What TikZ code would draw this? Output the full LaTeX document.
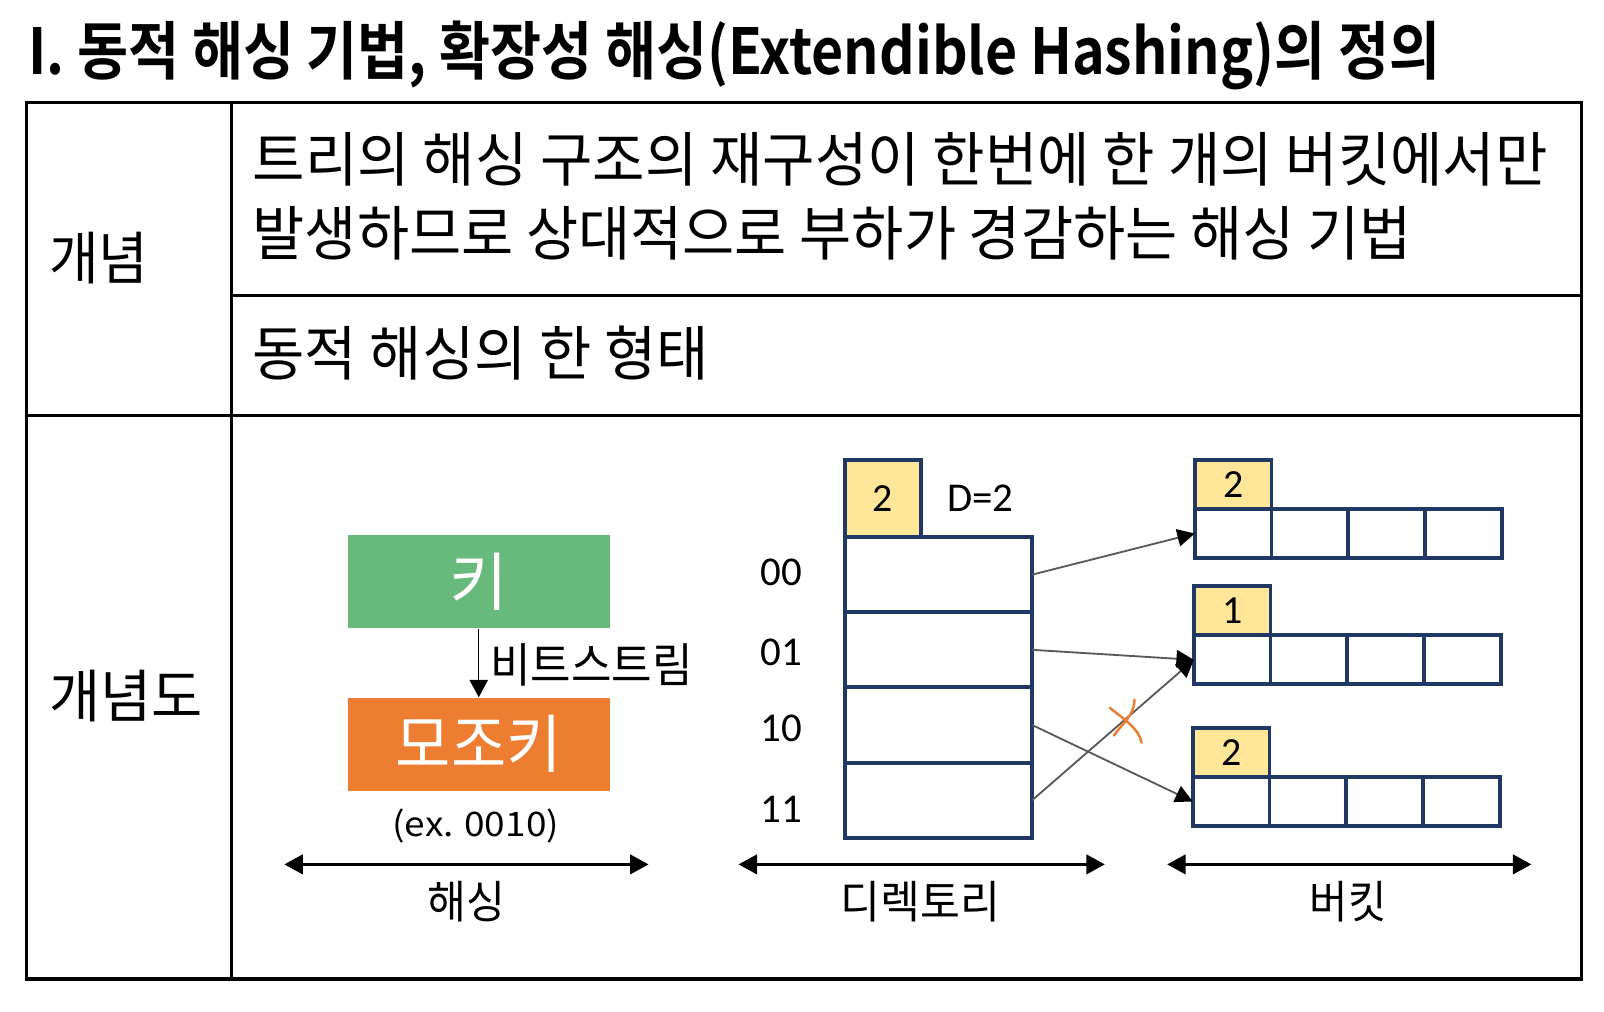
\documentclass[tikz,border=0pt]{standalone}
\usepackage{fontspec}
\usepackage{graphicx}
\usetikzlibrary{arrows.meta}
\newfontfamily\kr{Noto Sans CJK KR}
\newfontfamily\krb{Noto Sans CJK KR Bold}
\newfontfamily\calfont{Carlito}
\definecolor{dnavy}{RGB}{31,56,100}
\definecolor{hyellow}{RGB}{255,230,153}
\definecolor{kgreen}{RGB}{104,186,124}
\definecolor{korange}{RGB}{237,125,49}
\definecolor{cgray}{RGB}{89,89,89}
\newcommand\fitw[2]{\resizebox{#1}{\height}{#2}}
\tikzset{
  tline/.style={line width=1.5pt, black},
  cell/.style={draw=dnavy, line width=1.9pt, fill=white, minimum width=37.5pt, minimum height=24pt, inner sep=0pt, outer sep=0pt},
  hdr/.style={cell, fill=hyellow, font=\calfont\fontsize{19.5pt}{22pt}\selectfont},
  drow/.style={draw=dnavy, line width=1.9pt, fill=white, minimum width=91.5pt, minimum height=36.75pt, inner sep=0pt, outer sep=0pt},
  conn/.style={draw=cgray, line width=0.9pt, -{Triangle[length=8.5pt,width=8.5pt,color=black]}},
  darr/.style={line width=1.3pt, {Triangle[length=9pt,width=9.5pt]}-{Triangle[length=9pt,width=9.5pt]}},
  harr/.style={line width=0.6pt, -{Triangle[length=8.5pt,width=9pt]}},
  colorbox/.style={minimum width=128pt, minimum height=45.5pt, inner sep=0pt, text=white},
  txt/.style={inner sep=0pt, outer sep=0pt},
  lbl/.style={txt, font=\kr\fontsize{22pt}{26pt}\selectfont},
  num/.style={txt, font=\calfont\fontsize{20pt}{24pt}\selectfont},
  xmark/.style={draw=korange, line width=1.2pt, line cap=round}
}
\begin{document}
\begin{tikzpicture}[x=0.5pt,y=-0.5pt]
\useasboundingbox (0,0) rectangle (1568,989);
% title
\node[txt, anchor=west] (title) at (28,54) {\krb\fontsize{31pt}{36pt}\selectfont\fitw{690pt}{I. 동적 해싱 기법, 확장성 해싱(Extendible Hashing)의 정의}};
% table
\draw[tline] (26,100) rectangle (1546,957);
\draw[tline] (226,100) -- (226,957);
\draw[tline] (226,289) -- (1546,289);
\draw[tline] (26,406) -- (1546,406);
\node[txt, anchor=west] (c1) at (48,252) {\kr\fontsize{28pt}{34pt}\selectfont\fitw{48.5pt}{개념}};
\node[txt, anchor=west] (c2) at (48,680) {\kr\fontsize{28pt}{34pt}\selectfont\fitw{75pt}{개념도}};
\node[txt, anchor=west] (l1) at (247,156) {\kr\fontsize{29pt}{34pt}\selectfont\fitw{633pt}{트리의 해싱 구조의 재구성이 한번에 한 개의 버킷에서만}};
\node[txt, anchor=west] (l2) at (247,228) {\kr\fontsize{29pt}{34pt}\selectfont\fitw{566.5pt}{발생하므로 상대적으로 부하가 경감하는 해싱 기법}};
\node[txt, anchor=west] (l3) at (247,345) {\kr\fontsize{29pt}{34pt}\selectfont\fitw{223pt}{동적 해싱의 한 형태}};
% hashing part
\node[colorbox, fill=kgreen] (key) at (468,568.5) {\kr\fontsize{31pt}{36pt}\selectfont 키};
\node[colorbox, fill=korange] (mojo) at (468,727.5) {\kr\fontsize{31pt}{36pt}\selectfont\fitw{81pt}{모조키}};
\draw[harr] (key.south) -- (mojo.north);
\node[txt, anchor=west] (bits) at (479,650) {\kr\fontsize{23pt}{27pt}\selectfont\fitw{99pt}{비트스트림}};
\node[txt] (ex) at (465,807) {\kr\fontsize{16.5pt}{20pt}\selectfont\fitw{81.5pt}{(ex. 0010)}};
% directory
\node[hdr, minimum width=37pt, minimum height=37.5pt] (dg) at (863,487.5) {2};
\node[num, anchor=west] (dlab) at (926,487) {D=2};
\node[drow] (r0) at (917.5,561.75) {};
\node[drow] (r1) at (917.5,635.25) {};
\node[drow] (r2) at (917.5,708.75) {};
\node[drow] (r3) at (917.5,782.25) {};
\node[num] (n0) at (764,560) {00};
\node[num] (n1) at (764,638) {01};
\node[num] (n2) at (764,712) {10};
\node[num] (n3) at (764,791) {11};
% buckets
\foreach \b/\xl/\yh/\d in {a/1168/473.5/2, b/1167/597/1, c/1166/735.5/2}{
  \node[hdr] (\b h) at (\xl+37.5,\yh) {\d};
  \foreach \i in {0,1,2,3}{
    \node[cell] (\b\i) at (\xl+37.5+75*\i,\yh+48) {};
  }
}
\draw[conn] (r0.east) -- (a0.west);
\draw[conn] (r1.east) -- (b0.west);
\draw[conn] (r2.east) -- (c0.west);
\draw[conn] (r3.east) -- (b0.west);
% X mark
\draw[xmark] (1085,692) .. controls (1100,704) and (1113,712) .. (1116,726);
\draw[xmark] (1109,684) .. controls (1109,700) and (1096,708) .. (1089,719);
% bottom ranges
\coordinate (hL) at (278,845); \coordinate (hR) at (634,845);
\coordinate (dL) at (722,845); \coordinate (dR) at (1080,845);
\coordinate (bL) at (1141,845); \coordinate (bR) at (1497,845);
\draw[darr] (hL) -- (hR);
\draw[darr] (dL) -- (dR);
\draw[darr] (bL) -- (bR);
\node[lbl] (t1) at (456,881) {\fitw{38pt}{해싱}};
\node[lbl] (t2) at (900,881) {\fitw{78pt}{디렉토리}};
\node[lbl] (t3) at (1318,881) {\fitw{37.5pt}{버킷}};
\end{tikzpicture}
\end{document}
